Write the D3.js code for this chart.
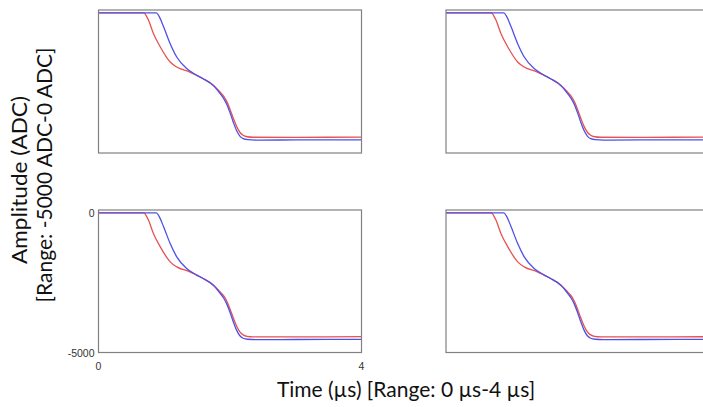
<!DOCTYPE html>
<html>
<head>
<meta charset="utf-8">
<script src="https://cdn.jsdelivr.net/npm/d3@7"></script>
<style>
  body { margin: 0; background: #fff; }
  .title { font-family: Lato, "Open Sans", sans-serif; font-size: 21px; fill: #111; }
  .tick-label { font-family: "Liberation Sans", Arial, sans-serif; font-size: 10.5px; fill: #333; }
</style>
</head>
<body>
<svg id="chart" width="703" height="407"></svg>
<script>
// waveform: time in µs, amplitude in ADC
var redTime = [0, 0.69, 0.72, 0.76, 0.835, 0.94, 1.09, 1.19, 1.39, 1.49, 1.59, 1.75, 1.85, 1.9, 1.95, 2.0, 2.05, 2.1, 2.15, 2.2, 2.26, 2.35, 3.0, 4.0];
var redAmp  = [0, 0, -80, -260, -740, -1218, -1755, -1935, -2113, -2230, -2350, -2590, -2830, -2960, -3160, -3440, -3760, -4050, -4260, -4370, -4420, -4438, -4440, -4435];
var blueTime = [0, 0.88, 0.92, 0.99, 1.09, 1.19, 1.34, 1.49, 1.59, 1.75, 1.85, 1.9, 1.95, 2.0, 2.05, 2.1, 2.15, 2.2, 2.27, 2.4, 3.0, 4.0];
var blueAmp  = [0, 0, -120, -500, -1100, -1575, -1990, -2220, -2350, -2600, -2880, -3040, -3260, -3560, -3900, -4200, -4400, -4490, -4525, -4538, -4535, -4530];

var xDomain = [0, 4];
var yDomain = [-5000, 100];
var xTicks = [0, 4];
var yTicks = [0, -5000];

var RED = '#e65252';
var BLUE = '#5050e6';
var BOX = '#808080';

// panel frames: left, top, width, height
var panels = [
    { left : 98.5, top : 10,  width : 263, height : 143, ticks : false },
    { left : 446,  top : 10,  width : 263, height : 143, ticks : false },
    { left : 98.5, top : 210, width : 263, height : 142.5, ticks : true },
    { left : 446,  top : 210, width : 263, height : 142.5, ticks : false }
];

var svg = d3.select('#chart');

var redPts = redTime.map(function(t, i) { return [t, redAmp[i]]; });
var bluePts = blueTime.map(function(t, i) { return [t, blueAmp[i]]; });

panels.forEach(function(p) {
    var x = d3.scaleLinear().domain(xDomain).range([p.left, p.left + p.width]);
    var y = d3.scaleLinear().domain(yDomain).range([p.top + p.height, p.top]);
    var g = svg.append('g');

    var line = d3.line()
        .x(function(d) { return x(d[0]); })
        .y(function(d) { return y(d[1]); })
        .curve(d3.curveMonotoneX);

    g.append('path')
        .attr('d', line(redPts))
        .attr('fill', 'none')
        .attr('stroke', RED)
        .attr('stroke-width', 1.3);

    g.append('path')
        .attr('d', line(bluePts))
        .attr('fill', 'none')
        .attr('stroke', BLUE)
        .attr('stroke-width', 1.3);

    // frame
    g.append('rect')
        .attr('x', p.left)
        .attr('y', p.top)
        .attr('width', p.width)
        .attr('height', p.height)
        .attr('fill', 'none')
        .attr('stroke', BOX)
        .attr('stroke-width', 1.2);

    if (p.ticks) {
        g.selectAll('text.ylab')
            .data(yTicks)
            .enter()
            .append('text')
            .attr('class', 'tick-label')
            .attr('x', p.left - 4)
            .attr('y', function(d) { return y(d) + 4; })
            .attr('text-anchor', 'end')
            .text(function(d) { return d; });

        g.selectAll('text.xlab')
            .data(xTicks)
            .enter()
            .append('text')
            .attr('class', 'tick-label')
            .attr('x', function(d) { return x(d); })
            .attr('y', p.top + p.height + 17)
            .attr('text-anchor', 'middle')
            .text(function(d) { return d; });
    }
});

// axis titles
svg.append('text')
    .attr('class', 'title')
    .attr('x', 406)
    .attr('y', 397)
    .attr('text-anchor', 'middle')
    .text('Time (\u00b5s) [Range: 0 \u00b5s-4 \u00b5s]');

svg.append('text')
    .attr('class', 'title')
    .attr('transform', 'translate(27,180) rotate(-90)')
    .attr('text-anchor', 'middle')
    .attr('textLength', 168)
    .attr('lengthAdjust', 'spacingAndGlyphs')
    .text('Amplitude (ADC)');

svg.append('text')
    .attr('class', 'title')
    .attr('transform', 'translate(52,175) rotate(-90)')
    .attr('text-anchor', 'middle')
    .text('[Range: -5000 ADC-0 ADC]');
</script>
</body>
</html>
